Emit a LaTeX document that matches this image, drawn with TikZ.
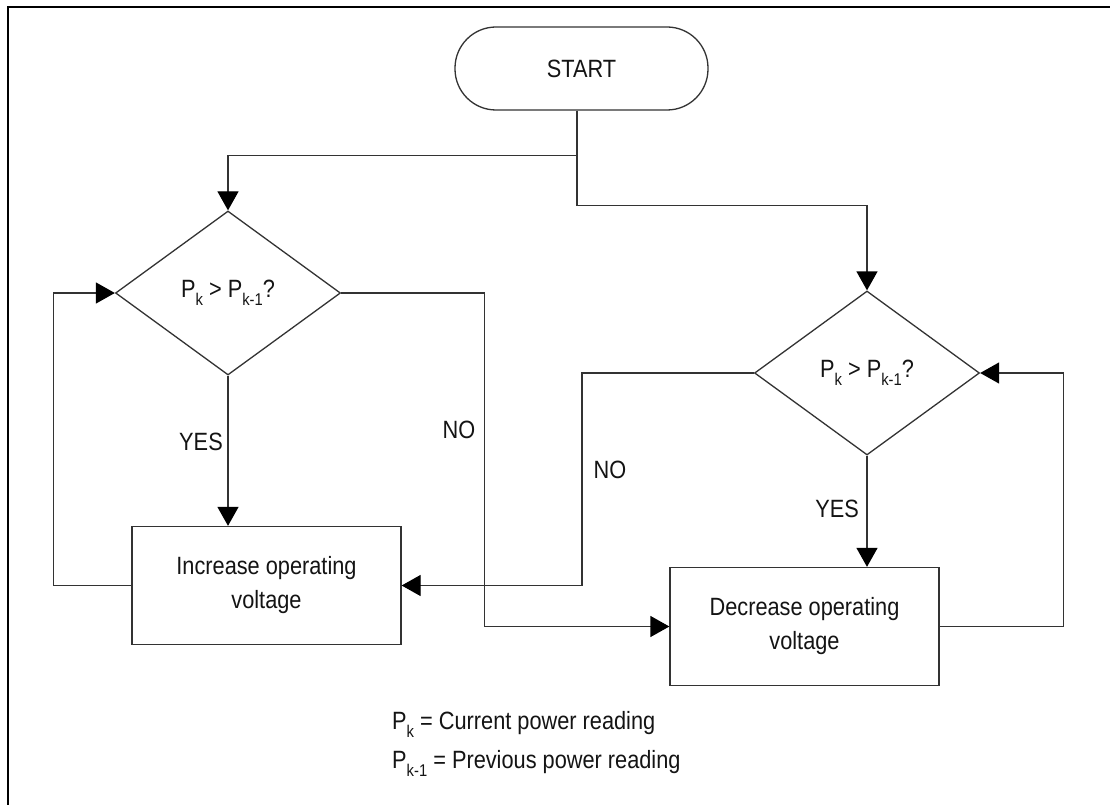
\documentclass[tikz,border=0pt]{standalone}
\usepackage{fontspec}
\setmainfont[FakeStretch=0.87]{Liberation Sans}
\usetikzlibrary{shapes.geometric,arrows.meta}
% lowered, smaller index letters for P_k
\newcommand\subx[1]{\raisebox{-8pt}{\fontsize{17}{17}\selectfont #1}}

\begin{document}
\begin{tikzpicture}[x=1pt,y=-1pt,
  every node/.style={font=\fontsize{25}{34}\selectfont, text=black!92},
  line/.style={draw=black!80, line width=1.3pt},
  arr/.style={line, -{Triangle[width=21pt,length=19pt,color=black]}},
  term/.style={line, rectangle, rounded corners=41pt, minimum width=253pt, minimum height=83pt},
  decision/.style={line, diamond, aspect=1.37, inner sep=0pt, minimum width=225pt, minimum height=164pt},
  action/.style={line, rectangle, minimum width=269pt, minimum height=118pt, align=center},
  lbl/.style={inner sep=0pt}]

\fill[white] (0,0) rectangle (1110,805);
\useasboundingbox (0,0) rectangle (1110,805);

% outer frame
\draw[black, line width=1.6pt] (8,805) -- (8,7) -- (1110,7);

% blocks
\node[term] (start) at (581.5,68.5) {START};
\node[decision] (d1) at (228,293) {P\subx{k} > P\subx{k-1}?};
\node[decision] (d2) at (867,373) {P\subx{k} > P\subx{k-1}?};
\node[action] (b1) at (266.5,585.5) {Increase operating\\voltage};
\node[action] (b2) at (804.5,626.5) {Decrease operating\\voltage};

% flow
\draw[arr] ([xshift=-4.5pt]start.south) -- ++(0,45) -| (d1.north);
\draw[arr] ([xshift=-4.5pt]start.south) -- ++(0,95) -| (d2.north);
\draw[arr] (d1.south) -- (d1.south |- b1.north);
\draw[arr] (b1.west) -- ++(-78,0) |- (d1.west);
\draw[arr] (d1.east) -- ++(143,0) |- (b2.west);
\draw[arr] (d2.west) -- ++(-172,0) |- (b1.east);
\draw[arr] (d2.south) -- (d2.south |- b2.north);
\draw[arr] (b2.east) -- ++(124,0) |- (d2.east);

% branch labels
\node[lbl] (yes1) at (201,442) {YES};
\node[lbl] (no1) at (459,430) {NO};
\node[lbl] (no2) at (610,470) {NO};
\node[lbl] (yes2) at (837,509) {YES};

% legend
\node[lbl, anchor=base west] (legk) at (392,729) {P\subx{k} = Current power reading};
\node[lbl, anchor=base west] (legk1) at (392,768) {P\subx{k-1} = Previous power reading};
\end{tikzpicture}
\end{document}
